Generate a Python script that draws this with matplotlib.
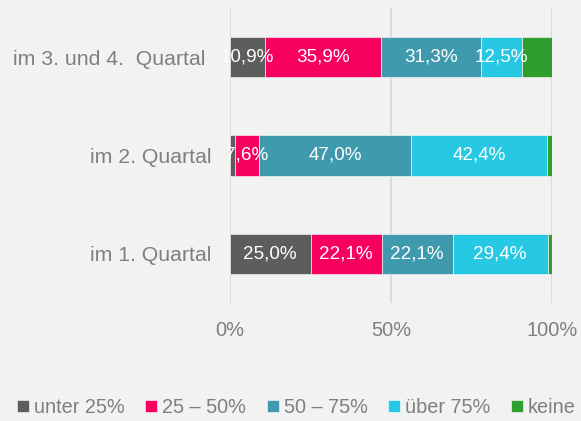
import matplotlib.pyplot as plt
import numpy as np

plt.rcParams['font.family'] = ['Liberation Sans', 'DejaVu Sans']

quarters = ['im 1. Quartal', 'im 2. Quartal', 'im 3. und 4.  Quartal ']
series = ['unter 25%', '25 – 50%', '50 – 75%', 'über 75%', 'keine']
values = {
    'unter 25%': [25.0, 1.5, 10.9],
    '25 – 50%': [22.1, 7.6, 35.9],
    '50 – 75%': [22.1, 47.0, 31.3],
    'über 75%': [29.4, 42.4, 12.5],
    'keine': [1.4, 1.5, 9.4],
}
labels = {
    'unter 25%': ['25,0%', '', '10,9%'],
    '25 – 50%': ['22,1%', '7,6%', '35,9%'],
    '50 – 75%': ['22,1%', '47,0%', '31,3%'],
    'über 75%': ['29,4%', '42,4%', '12,5%'],
    'keine': ['', '', ''],
}
colors = ['#5d5d5c', '#f70060', '#3f9aae', '#26c8e3', '#2e9e2e']

bg = '#f2f2f2'
grey = '#7f7f7f'

fig = plt.figure(figsize=(5.81, 4.21), dpi=100, facecolor=bg)
ax = fig.add_axes([0.3959, 0.2803, 0.5542, 0.7007], facecolor=bg)

y = np.arange(len(quarters))
left = np.zeros(len(quarters))
for name, col in zip(series, colors):
    v = np.array(values[name]) / 100
    ax.barh(y, v, left=left, height=0.41, color=col, edgecolor='white',
            linewidth=0.4, label=name, zorder=3)
    for i in range(len(quarters)):
        if labels[name][i]:
            ax.text(left[i] + v[i] / 2, y[i], labels[name][i], ha='center',
                    va='center', color='white', fontsize=13.6, zorder=4)
    left += v

ax.set_xlim(0, 1)
ax.set_ylim(-0.5, 2.5)
ax.set_xticks([0, 0.5, 1])
ax.set_xticklabels(['0%', '50%', '100%'])
ax.set_yticks(y)
ax.set_yticklabels(quarters)
ax.tick_params(axis='x', length=0, pad=13, labelsize=14.4, colors=grey)
ax.tick_params(axis='y', length=0, pad=13.5, labelsize=15.3, colors=grey)
ax.grid(axis='x', color='#d9d9d9', linewidth=1.3, zorder=0)
for s in ax.spines.values():
    s.set_visible(False)

leg = fig.legend(loc='lower center', bbox_to_anchor=(0.51, -0.033), ncol=5,
                 frameon=False, fontsize=14.3, handlelength=0.6, handleheight=0.6,
                 handletextpad=0.25, columnspacing=1.05, labelcolor=grey)

fig.savefig('out.png', dpi=100, facecolor=bg)
